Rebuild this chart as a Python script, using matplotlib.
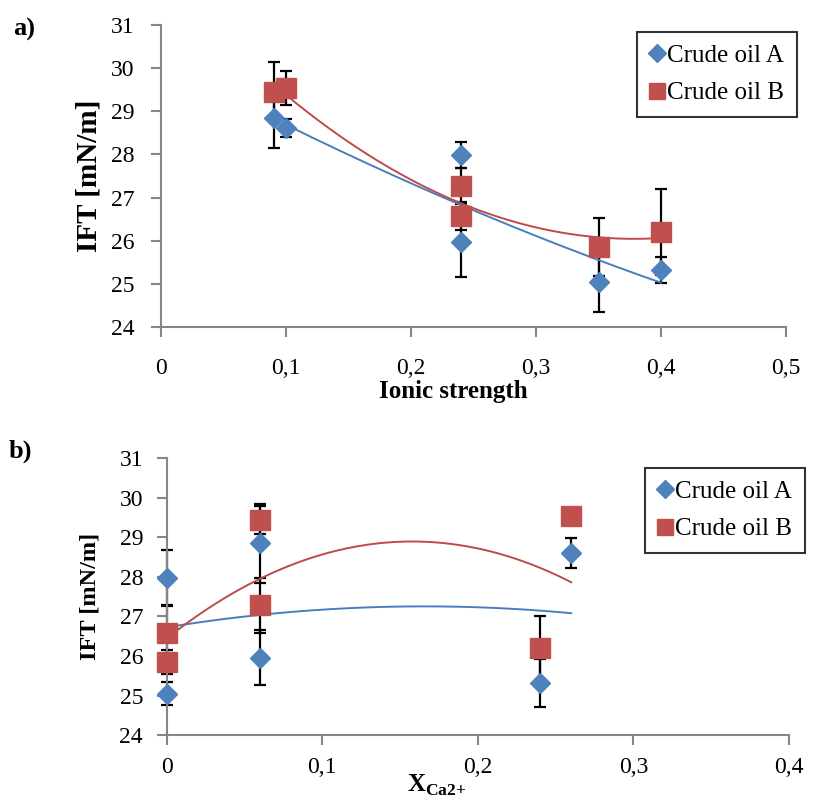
import numpy as np
import matplotlib
matplotlib.use("Agg")
import matplotlib.pyplot as plt
from matplotlib.ticker import FuncFormatter, MultipleLocator

plt.rcParams['font.family'] = ['Liberation Serif', 'DejaVu Serif']
plt.rcParams['mathtext.fontset'] = 'custom'
plt.rcParams['mathtext.rm'] = 'Liberation Serif'
plt.rcParams['mathtext.bf'] = 'Liberation Serif:bold'

# a) IFT vs ionic strength
ionic_a = [0.09, 0.10, 0.24, 0.24, 0.35, 0.40]
ift_a1 = [28.84, 28.61, 27.98, 25.96, 25.04, 25.32]
err_a1 = [0.70, 0.20, 0.30, 0.80, 0.70, 0.30]
ionic_b = [0.09, 0.10, 0.24, 0.24, 0.35, 0.40]
ift_b1 = [29.45, 29.54, 27.27, 26.57, 25.85, 26.20]
err_b1 = [0.70, 0.40, 0.42, 0.33, 0.67, 1.00]

# b) IFT vs calcium fraction
xca_a = [0.0, 0.0, 0.06, 0.06, 0.24, 0.26]
ift_a2 = [27.98, 25.05, 28.85, 25.96, 25.32, 28.60]
err_a2 = [0.70, 0.30, 1.00, 0.70, 0.60, 0.38]
xca_b = [0.0, 0.0, 0.06, 0.06, 0.24, 0.26]
ift_b2 = [26.57, 25.85, 29.44, 27.28, 26.20, 29.55]
err_b2 = [0.70, 0.30, 0.36, 0.70, 0.80, 0.10]

blue = '#4F81BD'
red = '#C0504D'
grey = '#868686'


def comma(v, pos):
    return ('%g' % v).replace('.', ',')


def draw(ax, xa, ya, ea, xb, yb, eb, xmin, xmax, xpad, ypad):
    for xs, ys, es in [(xa, ya, ea), (xb, yb, eb)]:
        eb_ = ax.errorbar(xs, ys, yerr=es, fmt='none', ecolor='black', elinewidth=1.6,
                          capsize=4.5, capthick=1.6, zorder=2)
        for art in eb_.lines[1] + eb_.lines[2]:
            art.set_clip_on(False)
    # 2nd order polynomial trendlines
    xx = np.linspace(xmin, xmax, 200)
    ax.plot(xx, np.polyval(np.polyfit(xa, ya, 2), xx), color='#4A7EBB', lw=1.4, zorder=2.5)
    ax.plot(xx, np.polyval(np.polyfit(xb, yb, 2), xx), color='#BE4B48', lw=1.4, zorder=2.5)
    ax.plot(xa, ya, 'D', color=blue, ms=10.3, mec=blue, ls='none',
            label='Crude oil A', zorder=3, clip_on=False)
    ax.plot(xb, yb, 's', color=red, ms=14.2, mec=red, ls='none',
            label='Crude oil B', zorder=3, clip_on=False)
    for s in ['top', 'right']:
        ax.spines[s].set_visible(False)
    for s in ['left', 'bottom']:
        ax.spines[s].set_color(grey)
        ax.spines[s].set_linewidth(1.5)
    ax.tick_params(colors=grey, width=1.5, length=7, labelcolor='black',
                   labelsize=17)
    ax.tick_params(axis='x', pad=xpad)
    ax.tick_params(axis='y', pad=ypad)
    ax.set_ylim(24, 31)
    ax.yaxis.set_major_locator(MultipleLocator(1))
    ax.xaxis.set_major_formatter(FuncFormatter(comma))


def legend(ax, anchor):
    leg = ax.legend(loc='upper left', bbox_to_anchor=anchor, borderaxespad=0,
                    fontsize=18, frameon=True, fancybox=False,
                    edgecolor='black', handlelength=0.6, handletextpad=0.1,
                    borderpad=0.5, labelspacing=0.6, markerscale=0.85)
    leg.get_frame().set_linewidth(1.5)
    return leg


fig = plt.figure(figsize=(8.14, 7.98), dpi=100)

ax1 = fig.add_axes([0.1978, 0.5902, 0.7678, 0.3785])
draw(ax1, ionic_a, ift_a1, err_a1, ionic_b, ift_b1, err_b1, 0.1, 0.4, 15, 12)
ax1.set_xlim(0, 0.5)
ax1.xaxis.set_major_locator(MultipleLocator(0.1))
ax1.set_xlabel('Ionic strength', fontsize=18, fontweight='bold')
ax1.xaxis.set_label_coords(0.467, -0.174)
ax1.set_ylabel('IFT [mN/m]', fontsize=21, fontweight='bold')
ax1.yaxis.set_label_coords(-0.093, 0.5)
legend(ax1, (0.762, 0.977))

ax2 = fig.add_axes([0.2048, 0.0789, 0.7645, 0.3468])
draw(ax2, xca_a, ift_a2, err_a2, xca_b, ift_b2, err_b2, 0.0, 0.26, 9, 10)
ax2.set_xlim(0, 0.4)
ax2.xaxis.set_major_locator(MultipleLocator(0.1))
ax2.set_xlabel(r'$\mathbf{X}_{\mathbf{Ca2{+}}}$', fontsize=18)
ax2.xaxis.set_label_coords(0.434, -0.138)
ax2.set_ylabel('IFT [mN/m]', fontsize=17.5, fontweight='bold')
ax2.yaxis.set_label_coords(-0.106, 0.5)
legend(ax2, (0.769, 0.965))

fig.text(0.016, 0.956, 'a)', fontsize=19, fontweight='bold', va='baseline')
fig.text(0.010, 0.426, 'b)', fontsize=19, fontweight='bold', va='baseline')

fig.savefig('out.png', dpi=100)
